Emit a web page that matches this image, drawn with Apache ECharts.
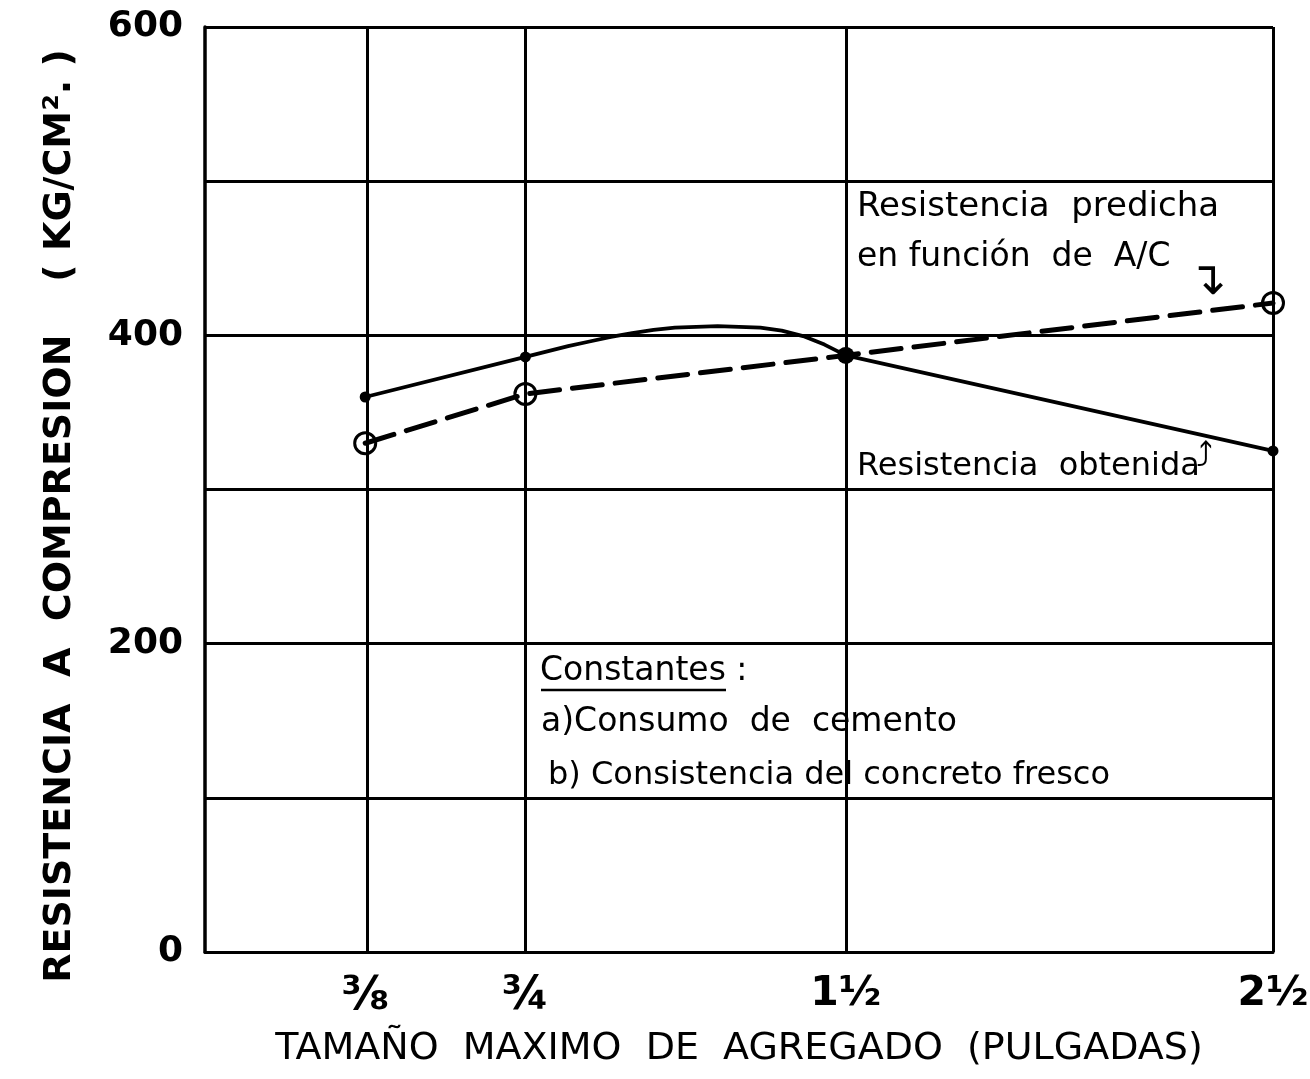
<!DOCTYPE html>
<html>
<head>
<meta charset="utf-8">
<title>Resistencia a compresion vs tamaño maximo de agregado</title>
<script src="https://cdn.jsdelivr.net/npm/echarts@6/dist/echarts.min.js"></script>
<style>
  html, body { margin: 0; padding: 0; background: #fff; }
  #chart { width: 1310px; height: 1079px; }
</style>
</head>
<body>
<div id="chart"></div>
<script>
// tamaño maximo de agregado (pulgadas) y sus etiquetas
var tamanos = [0.375, 0.75, 1.5, 2.5]
var etiquetasX = ['⅜', '¾', '1½', '2½']
var etiquetasY = [0, 200, 400, 600]

// resistencia a compresion (kg/cm2)
var resistenciaObtenida = [360, 386, 387, 325]
var resistenciaPredicha = [330, 362, 387, 421]

// trazo curvo de la linea obtenida entre 3/4 y 1 1/2
var trazoX = [0.85, 0.9, 0.95, 1.0, 1.05, 1.1, 1.2, 1.3, 1.35, 1.4, 1.45]
var trazoY = [393, 396, 399, 401.5, 403.5, 405, 406, 405, 403, 399.5, 394]

var FONT = 'DejaVu Sans'

// puntos de la curva obtenida (medidos con punto, trazo sin simbolo)
var obtenida = []
tamanos.forEach(function (t, i) {
  obtenida.push({ value: [t, resistenciaObtenida[i]], symbolSize: t === 1.5 ? 17 : 11 })
})
trazoX.forEach(function (t, i) {
  obtenida.push({ value: [t, trazoY[i]], symbol: 'none' })
})
obtenida.sort(function (a, b) { return a.value[0] - b.value[0] })

var predicha = tamanos.map(function (t, i) {
  var p = { value: [t, resistenciaPredicha[i]] }
  if (t === 1.5) p.symbol = 'none' // queda bajo el punto lleno
  return p
})

function texto (txt, x, y, size) {
  return {
    type: 'text',
    x: x,
    y: y,
    style: { text: txt, font: size + 'px ' + FONT, fill: '#000', textVerticalAlign: 'middle' }
  }
}

var chart = echarts.init(document.getElementById('chart'))
chart.setOption({
  animation: false,
  backgroundColor: '#fff',
  grid: { left: 205, right: 37, top: 27, bottom: 127, outerBoundsMode: 'none' },
  xAxis: {
    type: 'value',
    min: 0,
    max: 2.5,
    name: 'TAMAÑO  MAXIMO  DE  AGREGADO  (PULGADAS)',
    nameLocation: 'middle',
    nameGap: 78,
    nameTextStyle: { fontFamily: FONT, fontSize: 38, color: '#000' },
    axisLine: { lineStyle: { color: '#000', width: 3 } },
    axisTick: { show: false },
    splitLine: { show: false },
    axisLabel: {
      customValues: tamanos,
      margin: 22,
      fontFamily: FONT,
      fontWeight: 'bold',
      color: '#000',
      formatter: function (v) {
        var i = tamanos.indexOf(v)
        if (i < 0) return ''
        return v < 1 ? '{f|' + etiquetasX[i] + '}' : '{m|' + etiquetasX[i] + '}'
      },
      rich: {
        f: { fontFamily: FONT, fontWeight: 'bold', fontSize: 46, color: '#000' },
        m: { fontFamily: FONT, fontWeight: 'bold', fontSize: 41, color: '#000' }
      }
    }
  },
  yAxis: {
    type: 'value',
    min: 0,
    max: 600,
    interval: 100,
    name: 'RESISTENCIA  A  COMPRESION    ( KG/CM². )    ',
    nameLocation: 'middle',
    nameGap: 126,
    nameRotate: 90,
    nameTextStyle: { fontFamily: FONT, fontWeight: 'bold', fontSize: 38, color: '#000' },
    axisLine: { show: true, lineStyle: { color: '#000', width: 3.5 } },
    axisTick: { show: false },
    splitLine: { show: true, lineStyle: { color: '#000', width: 3 } },
    axisLabel: {
      customValues: etiquetasY,
      margin: 22,
      fontFamily: FONT,
      fontWeight: 'bold',
      fontSize: 36,
      color: '#000'
    }
  },
  series: [
    {
      // lineas verticales de la cuadricula en cada tamaño
      name: 'cuadricula',
      type: 'line',
      data: [],
      z: 1,
      silent: true,
      markLine: {
        silent: true,
        symbol: 'none',
        label: { show: false },
        lineStyle: { color: '#000', width: 3, type: 'solid' },
        data: tamanos.map(function (t) { return { xAxis: t } })
      }
    },
    {
      name: 'Resistencia predicha en función de A/C',
      type: 'line',
      data: predicha,
      z: 3,
      symbol: 'circle',
      symbolSize: 21,
      itemStyle: { color: 'rgba(0,0,0,0)', borderColor: '#000', borderWidth: 3 },
      lineStyle: { color: '#000', width: 5, type: [30, 13], cap: 'round' }
    },
    {
      name: 'Resistencia obtenida',
      type: 'line',
      data: obtenida,
      z: 4,
      symbol: 'circle',
      itemStyle: { color: '#000' },
      lineStyle: { color: '#000', width: 3.8, join: 'round' }
    }
  ],
  graphic: [
    texto('Resistencia  predicha', 857, 207, 34),
    texto('en función  de  A/C', 857, 257, 33),
    texto('↴', 1188, 282, 46),
    texto('Resistencia  obtenida', 857, 467, 32),
    texto('⤴', 1196, 458, 34),
    texto('Constantes :', 540, 671, 33),
    { type: 'line', shape: { x1: 541, y1: 690, x2: 726, y2: 690 }, style: { stroke: '#000', lineWidth: 2.5 } },
    texto('a)Consumo  de  cemento', 541, 722, 33),
    texto('b) Consistencia del concreto fresco', 548, 776, 32)
  ]
})
</script>
</body>
</html>
